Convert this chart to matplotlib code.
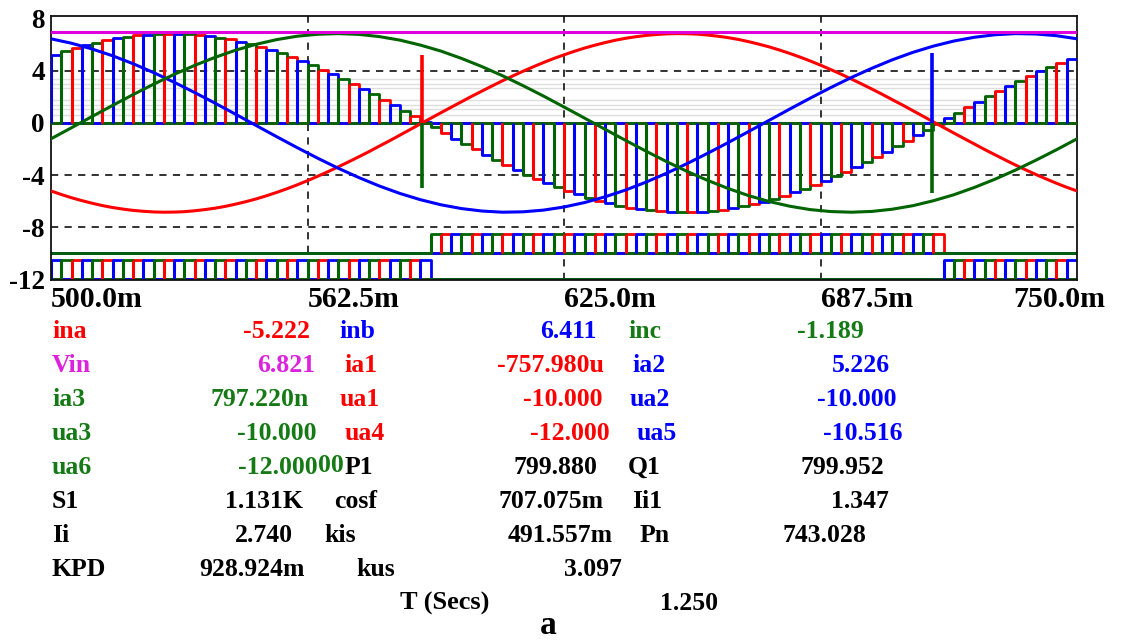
import numpy as np
import matplotlib.pyplot as plt
from matplotlib.transforms import ScaledTranslation

plt.rcParams['font.family'] = ['Liberation Serif', 'DejaVu Serif']
plt.rcParams['font.weight'] = 'bold'

RED, BLUE, GREEN, MAG = '#ff0000', '#0000ff', '#006400', '#dd00dd'
TXT_GREEN, TXT_MAG = '#157a15', '#dd22dd'

# time grids in ms (switching clock = 2.5 ms)
t_fine = 500.0 + 2.5 * np.arange(101)
t_coarse = 500.0 + 5.0 * np.arange(51)

# phase currents
ina = [-5.22, -5.49, -5.74, -5.96, -6.16, -6.34, -6.49, -6.61, -6.71, -6.78,
       -6.83, -6.85, -6.84, -6.81, -6.74, -6.65, -6.54, -6.40, -6.23, -6.04,
       -5.83, -5.59, -5.33, -5.05, -4.75, -4.43, -4.09, -3.74, -3.37, -2.99,
       -2.60, -2.20, -1.78, -1.37, -0.94, -0.51, -0.08, 0.35, 0.78, 1.20,
       1.62, 2.04, 2.44, 2.84, 3.23, 3.60, 3.96, 4.30, 4.63, 4.94,
       5.22, 5.49, 5.74, 5.96, 6.16, 6.34, 6.49, 6.61, 6.71, 6.78,
       6.83, 6.85, 6.84, 6.81, 6.74, 6.65, 6.54, 6.40, 6.23, 6.04,
       5.83, 5.59, 5.33, 5.05, 4.75, 4.43, 4.09, 3.74, 3.37, 2.99,
       2.60, 2.20, 1.78, 1.37, 0.94, 0.51, 0.08, -0.35, -0.78, -1.20,
       -1.62, -2.04, -2.44, -2.84, -3.23, -3.60, -3.96, -4.30, -4.63, -4.94,
       -5.22]
inb = [6.45, 6.11, 5.67, 5.15, 4.54, 3.86, 3.12, 2.33, 1.51, 0.66,
       -0.20, -1.06, -1.90, -2.71, -3.48, -4.19, -4.84, -5.41, -5.89, -6.28,
       -6.57, -6.76, -6.85, -6.82, -6.69, -6.45, -6.11, -5.67, -5.15, -4.54,
       -3.86, -3.12, -2.33, -1.51, -0.66, 0.20, 1.06, 1.90, 2.71, 3.48,
       4.19, 4.84, 5.41, 5.89, 6.28, 6.57, 6.76, 6.85, 6.82, 6.69,
       6.45]
inc = [-1.22, -0.37, 0.49, 1.34, 2.17, 2.97, 3.72, 4.41, 5.03, 5.58,
       6.03, 6.39, 6.65, 6.80, 6.85, 6.79, 6.62, 6.35, 5.97, 5.51,
       4.95, 4.32, 3.62, 2.86, 2.06, 1.22, 0.37, -0.49, -1.34, -2.17,
       -2.97, -3.72, -4.41, -5.03, -5.58, -6.03, -6.39, -6.65, -6.80, -6.85,
       -6.79, -6.62, -6.35, -5.97, -5.51, -4.95, -4.32, -3.62, -2.86, -2.06,
       -1.22]
vin_level = 6.95

# commutation spikes
spike_t = [590.4, 590.4, 714.7, 714.7]
spike_v = [5.2, -5.0, 5.4, -5.4]
spike_c = [RED, GREEN, BLUE, GREEN]

# switch states: high/low levels of ua1..3 and ua4..6
ua_hi_top, ua_lo_top = -8.5, -10.0
ua_hi_bot, ua_lo_bot = -10.5, -12.0
n_steps = 100
active = [(i + 1) % 3 for i in range(n_steps)]

faint_levels = [3.39, 3.0, 2.7, 1.73, 1.35, 1.1, 0.59]
grid_y = [4, -4, -8]
grid_x = [562.5, 625.0, 687.5]

# readout panel
names = [["ina", "inb", "inc"], ["Vin", "ia1", "ia2"], ["ia3", "ua1", "ua2"],
         ["ua3", "ua4", "ua5"], ["ua6", "P1", "Q1"], ["S1", "cosf", "Ii1"],
         ["Ii", "kis", "Pn"], ["KPD", "kus"]]
values = [["-5.222", "6.411", "-1.189"], ["6.821", "-757.980u", "5.226"],
          ["797.220n", "-10.000", "-10.000"], ["-10.000", "-12.000", "-10.516"],
          ["-12.000", "799.880", "799.952"], ["1.131K", "707.075m", "1.347"],
          ["2.740", "491.557m", "743.028"], ["928.924m", "3.097"]]
name_colors = {"ina": RED, "inb": BLUE, "inc": TXT_GREEN, "Vin": TXT_MAG,
               "ia1": RED, "ia2": BLUE, "ia3": TXT_GREEN, "ua1": RED,
               "ua2": BLUE, "ua3": TXT_GREEN, "ua4": RED, "ua5": BLUE,
               "ua6": TXT_GREEN}
# pixel layout of the panel: (label left, value right) per column
col_pos = [[(52, 310), (339, 597), (628, 864)],
           [(52, 315), (344, 604), (632, 890)],
           [(52, 309), (340, 603), (630, 897)],
           [(52, 316), (345, 610), (637, 903)],
           [(52, 318), (345, 597), (628, 884)],
           [(52, 303), (334, 603), (632, 889)],
           [(52, 293), (324, 613), (640, 866)],
           [(52, 305), (356, 622)]]
row_y = [332, 366, 400, 434, 467, 501, 535, 569]

W, H = 1122, 644
fig = plt.figure(figsize=(W / 100, H / 100), dpi=100)
ax = fig.add_axes([51 / W, 1 - 280 / H, (1077 - 51) / W, (280 - 16) / H])
ax.set_xlim(500, 750)
ax.set_ylim(-12.05, 8.2)

for lv in faint_levels:
    ax.axhline(lv, color='#dedede', lw=1.0, zorder=1)
for gy in grid_y:
    ax.axhline(gy, color='#222222', lw=1.3, ls=(0, (4, 3.5)), zorder=1)
for gx in grid_x:
    ax.axvline(gx, color='#222222', lw=1.3, ls=(0, (4, 3.5)), zorder=1)

ch_colors = [RED, BLUE, GREEN]
edge_t = t_fine[:n_steps]
edge_c = [ch_colors[a] for a in active]

# gate signals ua1..ua6
for c in range(3):
    top = [ua_hi_top if (active[i] == c and ina[i] > 0) else ua_lo_top for i in range(n_steps)]
    bot = [ua_hi_bot if (active[i] == c and ina[i] < 0) else ua_lo_bot for i in range(n_steps)]
    ax.step(t_fine, top + [top[-1]], where='post', color=ch_colors[c], lw=2.0, zorder=2)
    ax.step(t_fine, bot + [bot[-1]], where='post', color=ch_colors[c], lw=2.0, zorder=2)
# rising edges take the colour of the channel switching on
lo = [ua_lo_top if v > 0 else ua_lo_bot for v in ina[:n_steps]]
hi = [ua_hi_top if v > 0 else ua_hi_bot for v in ina[:n_steps]]
ax.vlines(edge_t, lo, hi, colors=edge_c, lw=2.2, zorder=2.5)

# switch currents ia1..ia3
for c in range(3):
    ia = [-ina[i] if active[i] == c else 0.0 for i in range(n_steps)]
    ax.step(t_fine, ia + [ia[-1]], where='post', color=ch_colors[c], lw=2.0, zorder=3)
ax.vlines(edge_t, 0, [-v for v in ina[:n_steps]], colors=edge_c, lw=2.2, zorder=3.5)

ax.plot(t_fine, ina, color=RED, lw=2.2, zorder=4)
ax.plot(t_coarse, inb, color=BLUE, lw=2.2, zorder=4)
ax.plot(t_coarse, inc, color=GREEN, lw=2.2, zorder=4)
ax.plot([500, 750], [vin_level, vin_level], color=MAG, lw=2.2, zorder=5)
ax.vlines(spike_t, 0, spike_v, colors=spike_c, lw=2.6, zorder=5)

for s in ax.spines.values():
    s.set_color('#111111')
    s.set_linewidth(1.3)

ax.set_yticks([8, 4, 0, -4, -8, -12])
ax.set_yticklabels(['8', '4', '0', '-4', '-8', '-12'])
ax.set_xticks([500, 562.5, 625, 687.5, 750])
ax.set_xticklabels(['500.0m', '562.5m', '625.0m', '687.5m', '750.0m'])
ax.tick_params(length=0, labelsize=19.5, pad=4.5)
ax.tick_params(axis='x', labelsize=21.5, pad=4)
xl = ax.get_xticklabels()
for lab in xl:
    lab.set_ha('left')
xl[-1].set_ha('right')
xl[-1].set_transform(xl[-1].get_transform() + ScaledTranslation(0.28, 0, fig.dpi_scale_trans))

# readout panel text
fs = 18.5
for r, row in enumerate(names):
    yy = 1 - row_y[r] / H
    for c, nm in enumerate(row):
        col = name_colors.get(nm, 'black')
        lx, vx = col_pos[r][c]
        fig.text(lx / W, yy, nm, color=col, fontsize=fs, ha='left', va='center')
        fig.text(vx / W, yy, values[r][c], color=col, fontsize=fs, ha='right', va='center')
fig.text(318 / W, 1 - 465 / H, "00", color=TXT_GREEN, fontsize=fs, ha='left', va='center')
fig.text(400 / W, 1 - 603 / H, "T (Secs)", color='black', fontsize=19, ha='left', va='center')
fig.text(718 / W, 1 - 603 / H, "1.250", color='black', fontsize=fs, ha='right', va='center')
fig.text(548 / W, 1 - 634 / H, "a", color='black', fontsize=24, ha='center', va='baseline')

fig.savefig('out.png', dpi=100)
